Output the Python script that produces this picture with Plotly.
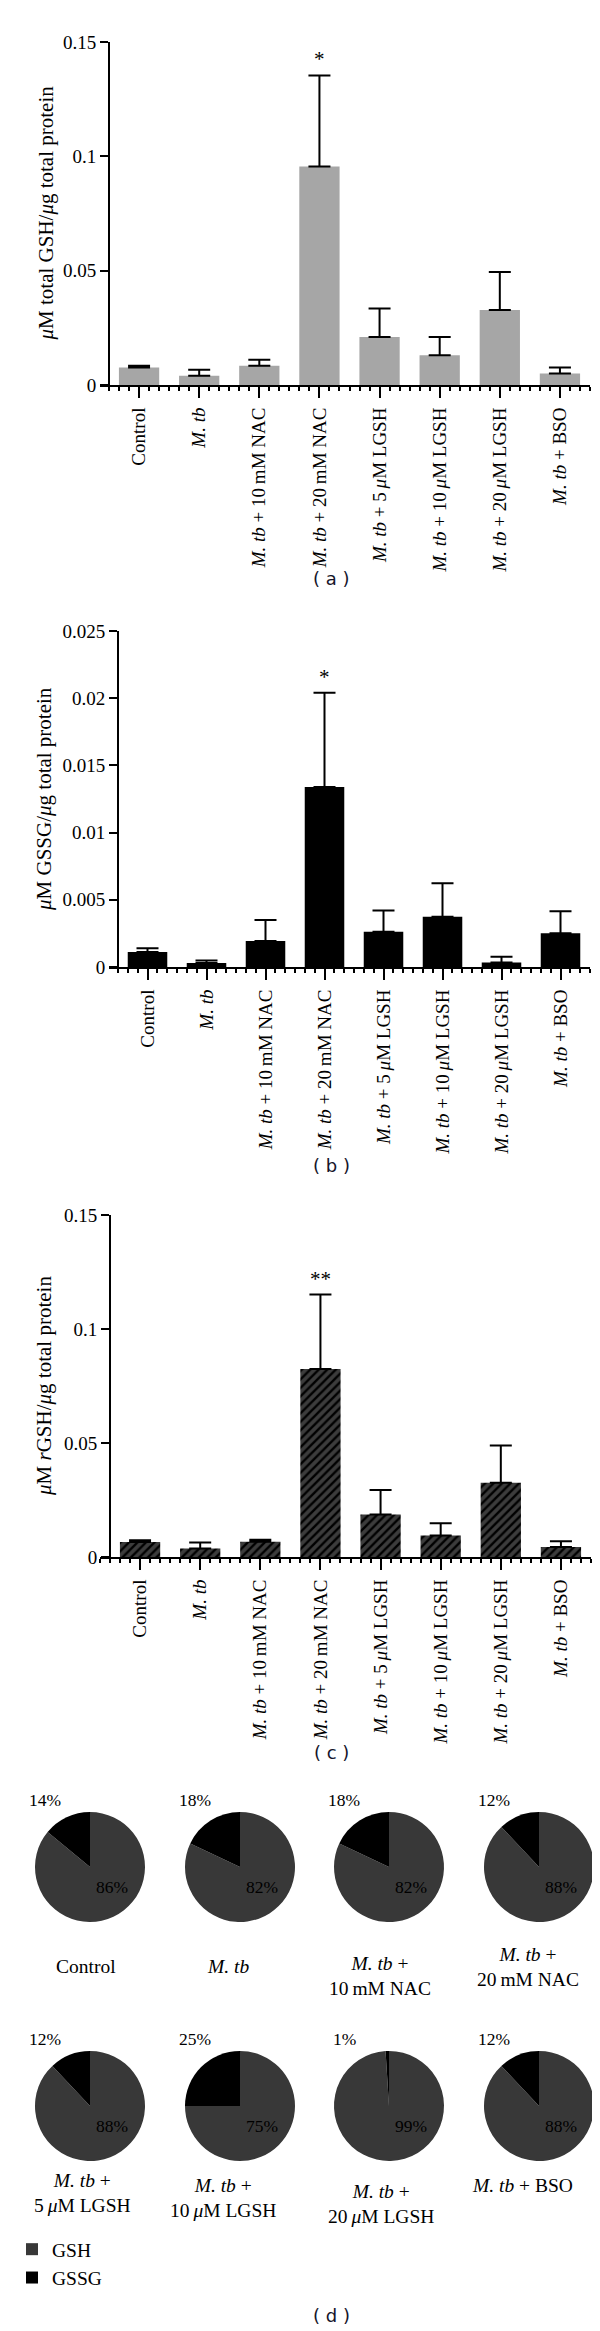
import numpy as np
import plotly.graph_objects as go

W, H = 600, 2331
SERIF = "Liberation Serif, Times New Roman, serif"
SANS = "DejaVu Sans, Verdana, sans-serif"

# ---------------- data ----------------
categories = [
    "Control",
    "<i>M. tb</i>",
    "<i>M. tb</i> + 10\u2009mM NAC",
    "<i>M. tb</i> + 20\u2009mM NAC",
    "<i>M. tb</i> + 5\u2009<i>μ</i>M LGSH",
    "<i>M. tb</i> + 10\u2009<i>μ</i>M LGSH",
    "<i>M. tb</i> + 20\u2009<i>μ</i>M LGSH",
    "<i>M. tb</i> + BSO",
]

# (a) total GSH
total_gsh_mean = [0.0077, 0.0040, 0.0084, 0.0955, 0.0210, 0.0130, 0.0328, 0.0050]
total_gsh_err = [0.0007, 0.0027, 0.0026, 0.0399, 0.0125, 0.0080, 0.0166, 0.0027]
total_gsh_stars = ["", "", "", "*", "", "", "", ""]

# (b) GSSG
gssg_mean = [0.00111, 0.00029, 0.00194, 0.01340, 0.00263, 0.00374, 0.00034, 0.00251]
gssg_err = [0.00029, 0.00020, 0.00155, 0.00700, 0.00157, 0.00249, 0.00043, 0.00163]
gssg_stars = ["", "", "", "*", "", "", "", ""]

# (c) reduced GSH
rgsh_mean = [0.0066, 0.0037, 0.0067, 0.0825, 0.0186, 0.0094, 0.0326, 0.0044]
rgsh_err = [0.0007, 0.0027, 0.0009, 0.0326, 0.0108, 0.0054, 0.0163, 0.0025]
rgsh_stars = ["", "", "", "**", "", "", "", ""]

yticks_a = [0, 0.05, 0.1, 0.15]
yticklabels_a = ["0", "0.05", "0.1", "0.15"]
yticks_b = [0, 0.005, 0.01, 0.015, 0.02, 0.025]
yticklabels_b = ["0", "0.005", "0.01", "0.015", "0.02", "0.025"]
yticks_c = [0, 0.05, 0.1, 0.15]
yticklabels_c = ["0", "0.05", "0.1", "0.15"]

# (d) pies
pie_names = [
    "Control",
    "<i>M. tb</i>",
    "<i>M. tb</i> +<br>10\u2009mM NAC",
    "<i>M. tb</i> +<br>20\u2009mM NAC",
    "<i>M. tb</i> +<br>5\u2009<i>μ</i>M LGSH",
    "<i>M. tb</i> +<br>10\u2009<i>μ</i>M LGSH",
    "<i>M. tb</i> +<br>20\u2009<i>μ</i>M LGSH",
    "<i>M. tb</i> + BSO",
]
pie_gsh_pct = [86, 82, 82, 88, 88, 75, 99, 88]
pie_gssg_pct = [14, 18, 18, 12, 12, 25, 1, 12]
pie_labels = ["GSH", "GSSG"]

# ---------------- layout helpers ----------------
def px_x(x):
    return x / W

def px_y(y):
    return 1 - y / H

fig = go.Figure()
annotations = []

panels = [
    dict(mean=total_gsh_mean, err=total_gsh_err, stars=total_gsh_stars,
         color="#a6a6a6", pattern=None, ticks=yticks_a, labels=yticklabels_a,
         ymax=0.15, left=92, yx=101, right=582, top=34, bottom=377,
         title="<i>μ</i>M total GSH/<i>μ</i>g total protein", title_x=38,
         caption="( a )", cap_y=571),
    dict(mean=gssg_mean, err=gssg_err, stars=gssg_stars,
         color="#000000", pattern=None, ticks=yticks_b, labels=yticklabels_b,
         ymax=0.025, left=101, yx=110, right=582, top=623, bottom=959,
         title="<i>μ</i>M GSSG/<i>μ</i>g total protein", title_x=36,
         caption="( b )", cap_y=1157),
    dict(mean=rgsh_mean, err=rgsh_err, stars=rgsh_stars,
         color="#3c3c3c", pattern=dict(shape="/", fgcolor="#000000", bgcolor="#3c3c3c",
                                       size=6, solidity=0.4),
         ticks=yticks_c, labels=yticklabels_c,
         ymax=0.15, left=92, yx=102, right=583, top=1207, bottom=1549,
         title="<i>μ</i>M <i>r</i>GSH/<i>μ</i>g total protein", title_x=36,
         caption="( c )", cap_y=1744),
]

n = len(categories)
idx = list(range(n))
for k, p in enumerate(panels, start=1):
    sfx = "" if k == 1 else str(k)
    sp = (p["right"] - p["yx"]) / n
    xr = [-0.5 - (p["yx"] - p["left"]) / sp, n - 0.5]
    marker = dict(color=p["color"], line=dict(width=0))
    if p["pattern"]:
        marker["pattern"] = p["pattern"]
    fig.add_trace(go.Bar(
        x=idx, y=p["mean"], width=0.67, marker=marker,
        error_y=dict(type="data", symmetric=False, array=p["err"],
                     arrayminus=[0] * n, color="black", thickness=2, width=11),
        xaxis="x" + sfx, yaxis="y" + sfx, showlegend=False, hoverinfo="skip",
    ))
    fig.update_layout(**{
        "xaxis" + sfx: dict(
            domain=[px_x(p["left"]), px_x(p["right"])], anchor="y" + sfx,
            range=xr, showline=True, linewidth=2, linecolor="black",
            tickmode="array", tickvals=idx, ticktext=categories, tickangle=-90,
            ticks="outside", ticklen=11, tickwidth=2, tickcolor="black",
            ticklabelstandoff=2,
            minor=dict(ticks="outside", ticklen=4, tickwidth=1.5, tickcolor="black",
                       tick0=0, dtick=1 / 6),
            tickfont=dict(family=SERIF, size=19, color="black"),
            showgrid=False, zeroline=False, automargin=False, fixedrange=True,
        ),
        "yaxis" + sfx: dict(
            domain=[px_y(p["bottom"]), px_y(p["top"])], anchor="free",
            position=px_x(p["yx"]), range=[0, p["ymax"]],
            showline=True, linewidth=2, linecolor="black",
            tickmode="array", tickvals=p["ticks"], ticktext=p["labels"],
            ticks="outside", ticklen=8, tickwidth=2, tickcolor="black",
            tickfont=dict(family=SERIF, size=19, color="black"),
            showgrid=False, zeroline=False, automargin=False, fixedrange=True,
        ),
    })
    for i, s in enumerate(p["stars"]):
        if s:
            annotations.append(dict(
                x=i, y=p["mean"][i] + p["err"][i], xref="x" + sfx, yref="y" + sfx,
                text=s, showarrow=False, yanchor="bottom", yshift=2,
                font=dict(family=SERIF, size=21, color="black")))
    annotations.append(dict(
        x=px_x(p["title_x"]), y=px_y((p["top"] + p["bottom"]) / 2),
        xref="paper", yref="paper", text=p["title"], textangle=-90,
        showarrow=False, xanchor="center", yanchor="middle",
        font=dict(family=SERIF, size=21, color="black")))
    annotations.append(dict(
        x=px_x(323), y=px_y(p["cap_y"]), xref="paper", yref="paper",
        text=p["caption"], showarrow=False, xanchor="center", yanchor="middle",
        font=dict(family=SANS, size=18, color="#14142a")))

# ---------------- pies ----------------
R = 55
pie_cx = [82, 232, 381, 531, 82, 232, 381, 531]
pie_cy = [1859, 1859, 1859, 1859, 2098, 2098, 2098, 2098]
name_x = [78, 220, 372, 520, 74, 215, 373, 514]
name_y = [1959, 1959, 1956, 1947, 2173, 2178, 2184, 2178]

for i in range(len(pie_names)):
    cx, cy = pie_cx[i], pie_cy[i]
    fig.add_trace(go.Pie(
        labels=pie_labels, values=[pie_gsh_pct[i], pie_gssg_pct[i]],
        marker=dict(colors=["#383838", "#000000"], line=dict(width=0)),
        sort=False, direction="clockwise", rotation=0, textinfo="none",
        hoverinfo="skip", showlegend=(i == 0),
        domain=dict(x=[px_x(cx - R), px_x(cx + R)], y=[px_y(cy + R), px_y(cy - R)]),
    ))
    annotations.append(dict(
        x=px_x(cx - 45), y=px_y(cy - 67), xref="paper", yref="paper",
        text=f"{pie_gssg_pct[i]}%", showarrow=False, xanchor="center", yanchor="middle",
        font=dict(family=SERIF, size=17.5, color="black")))
    annotations.append(dict(
        x=px_x(cx + 22), y=px_y(cy + 20), xref="paper", yref="paper",
        text=f"{pie_gsh_pct[i]}%", showarrow=False, xanchor="center", yanchor="middle",
        font=dict(family=SERIF, size=17.5, color="black")))
    annotations.append(dict(
        x=px_x(name_x[i]), y=px_y(name_y[i] - 13), xref="paper", yref="paper",
        text=pie_names[i], showarrow=False, xanchor="center", yanchor="top",
        font=dict(family=SERIF, size=19.5, color="black")))

annotations.append(dict(
    x=px_x(323), y=px_y(2307), xref="paper", yref="paper", text="( d )",
    showarrow=False, xanchor="center", yanchor="middle",
    font=dict(family=SANS, size=18, color="#14142a")))

fig.update_layout(
    width=W, height=H, margin=dict(l=0, r=0, t=0, b=0),
    template="none", paper_bgcolor="white", plot_bgcolor="white",
    annotations=annotations,
    legend=dict(x=px_x(4), y=px_y(2222), xanchor="left", yanchor="top",
                font=dict(family=SERIF, size=19.5, color="black"),
                bgcolor="rgba(0,0,0,0)", borderwidth=0, tracegroupgap=0),
    showlegend=True,
)

fig.write_html("out.html")
